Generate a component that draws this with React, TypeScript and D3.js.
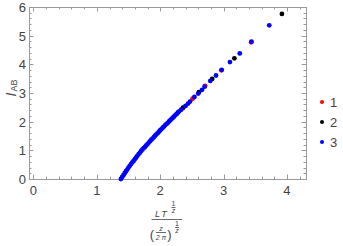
import { FC, useEffect, useRef } from 'react';
import * as d3 from 'd3';

// series 3 (blue) - dense part of the curve, then sparse points
const blueX = [
  1.38, 1.4, 1.42, 1.44, 1.46, 1.48, 1.5, 1.52, 1.54, 1.56, 1.58, 1.6, 1.62, 1.64, 1.66, 1.68, 1.7,
  1.72, 1.74, 1.76, 1.78, 1.8, 1.82, 1.84, 1.86, 1.88, 1.9, 1.92, 1.94, 1.96, 1.98, 2.0, 2.02, 2.04,
  2.06, 2.08, 2.1, 2.12, 2.14, 2.16, 2.18, 2.2, 2.22, 2.24, 2.26, 2.28, 2.3, 2.33,
  2.4, 2.44, 2.47, 2.54, 2.6, 2.66, 2.7, 2.79, 2.88, 2.97, 3.1, 3.255, 3.44, 3.72,
];
const blueY = [
  0.0, 0.07, 0.13, 0.2, 0.27, 0.33, 0.4, 0.46, 0.52, 0.58, 0.63, 0.69, 0.75, 0.81, 0.87, 0.92, 0.98,
  1.03, 1.08, 1.12, 1.17, 1.22, 1.27, 1.32, 1.37, 1.41, 1.46, 1.51, 1.56, 1.6, 1.65, 1.7, 1.74, 1.79,
  1.83, 1.88, 1.92, 1.96, 2.01, 2.05, 2.1, 2.14, 2.18, 2.23, 2.27, 2.32, 2.36, 2.42,
  2.55, 2.63, 2.7, 2.86, 2.98, 3.11, 3.22, 3.42, 3.61, 3.81, 4.08, 4.38, 4.79, 5.36,
];

// series 1 (red)
const redX = [2.36, 2.51, 2.71, 2.965, 3.435];
const redY = [2.47, 2.8, 3.25, 3.79, 4.77];

// series 2 (black)
const blackX = [2.36, 2.61, 2.82, 3.17, 3.92];
const blackY = [2.49, 3.03, 3.49, 4.21, 5.76];

const legendLabels = ['1', '2', '3'];
const seriesColors = ['#ff0000', '#000000', '#0000ff'];
const xTicks = [0, 1, 2, 3, 4];
const yTicks = [0, 1, 2, 3, 4, 5, 6];

const App: FC = () => {
  const svgRef = useRef<SVGSVGElement | null>(null);
  const width = 343;
  const height = 246;
  const margin = { top: 7, right: 37, bottom: 67, left: 29 };

  useEffect(() => {
    if (!svgRef.current) return;
    const svg = d3.select(svgRef.current);
    svg.selectAll('*').remove();

    const x = d3.scaleLinear().domain([-0.07, 4.3]).range([margin.left, width - margin.right]);
    const y = d3.scaleLinear().domain([0, 6]).range([height - margin.bottom, margin.top]);

    const frameColor = '#9a9a9a';
    const textColor = '#444';
    const font = 'Liberation Sans, Arial, sans-serif';

    const x0 = margin.left, x1 = width - margin.right;
    const y0 = height - margin.bottom, y1 = margin.top;

    // minor + major ticks on all four sides of the frame
    const ticks = svg.append('g').attr('stroke', frameColor).attr('stroke-width', 1);
    const xMinor = d3.range(0, 4.31, 0.2);
    xMinor.forEach(v => {
      const major = Math.abs(v - Math.round(v)) < 1e-6;
      const len = major ? 4.5 : 2.5;
      const px = Math.round(x(v)) + 0.5;
      ticks.append('line').attr('x1', px).attr('x2', px).attr('y1', y0).attr('y2', y0 - len);
      ticks.append('line').attr('x1', px).attr('x2', px).attr('y1', y1).attr('y2', y1 + len);
    });
    const yMinor = d3.range(0, 6.01, 0.2);
    yMinor.forEach(v => {
      const major = Math.abs(v - Math.round(v)) < 1e-6;
      const len = major ? 4.5 : 2.5;
      const py = Math.round(y(v)) + 0.5;
      ticks.append('line').attr('y1', py).attr('y2', py).attr('x1', x0).attr('x2', x0 + len);
      ticks.append('line').attr('y1', py).attr('y2', py).attr('x1', x1).attr('x2', x1 - len);
    });

    svg.append('rect')
      .attr('x', x0 + 0.5).attr('y', y1 + 0.5)
      .attr('width', x1 - x0).attr('height', y0 - y1)
      .attr('fill', 'none').attr('stroke', frameColor).attr('stroke-width', 1);

    // tick labels
    svg.append('g').selectAll('text').data(xTicks).enter().append('text')
      .attr('x', d => x(d)).attr('y', y0 + 16)
      .attr('text-anchor', 'middle').attr('font-family', font).attr('font-size', 13)
      .attr('fill', textColor).text(d => d);
    svg.append('g').selectAll('text').data(yTicks).enter().append('text')
      .attr('x', x0 - 3).attr('y', d => y(d) + 5)
      .attr('text-anchor', 'end').attr('font-family', font).attr('font-size', 13)
      .attr('fill', textColor).text(d => d);

    // data points
    const plot = svg.append('g');
    const series = [
      { xs: redX, ys: redY },
      { xs: blackX, ys: blackY },
      { xs: blueX, ys: blueY },
    ];
    series.forEach((s, i) => {
      plot.append('g').selectAll('circle')
        .data(s.xs.map((v, j) => [v, s.ys[j]] as [number, number]))
        .enter().append('circle')
        .attr('cx', d => x(d[0])).attr('cy', d => y(d[1]))
        .attr('r', 2.4).attr('fill', seriesColors[i]);
    });

    // legend
    const legend = svg.append('g');
    legendLabels.forEach((l, i) => {
      const ly = 102 + i * 20;
      legend.append('circle').attr('cx', 322).attr('cy', ly).attr('r', 2).attr('fill', seriesColors[i]);
      legend.append('text').attr('x', 330).attr('y', ly + 4.5)
        .attr('font-family', font).attr('font-size', 13).attr('fill', textColor).text(l);
    });

    // y axis title: I_AB
    const yt = svg.append('text')
      .attr('transform', 'translate(16,88) rotate(-90)')
      .attr('text-anchor', 'middle').attr('font-family', font).attr('fill', textColor);
    yt.append('tspan').attr('font-style', 'italic').attr('font-size', 14).text('I');
    yt.append('tspan').attr('font-size', 9).attr('dx', 1).attr('dy', 0.5).text('AB');

    // x axis title: L T^(1/z) / (z / 2π)^(1/z)
    const xt = svg.append('g').attr('font-family', font).attr('fill', textColor).attr('stroke', 'none');
    const txt = (tx: number, ty: number, s: string, size: number, italic = false) =>
      xt.append('text').attr('x', tx).attr('y', ty).attr('font-size', size)
        .attr('font-style', italic ? 'italic' : 'normal').attr('text-anchor', 'middle').text(s);
    const bar = (bx1: number, bx2: number, by: number) =>
      xt.append('line').attr('x1', bx1).attr('x2', bx2).attr('y1', by).attr('y2', by)
        .attr('stroke', textColor).attr('stroke-width', 0.8);

    txt(157.5, 216.5, 'L', 9, true);
    txt(164, 216.5, 'T', 9, true);
    txt(173.5, 206, '1', 7);
    bar(171.5, 175.5, 207.5);
    txt(173.5, 213, 'z', 7, true);
    bar(151.5, 182, 219.5);

    txt(152, 239, '(', 13);
    txt(161, 230.5, 'z', 7, true);
    bar(156, 166, 232.5);
    txt(161, 239.5, '2 π', 7, true);
    txt(169.5, 239, ')', 13);
    txt(177, 226, '1', 7);
    bar(175, 179, 227.5);
    txt(177, 233, 'z', 7, true);
  }, []);

  return (
    <svg
      ref={svgRef}
      width={width}
      height={height}
      style={{ position: 'absolute', left: 0, top: 0, background: '#fff' }}
    />
  );
};

export default App;
